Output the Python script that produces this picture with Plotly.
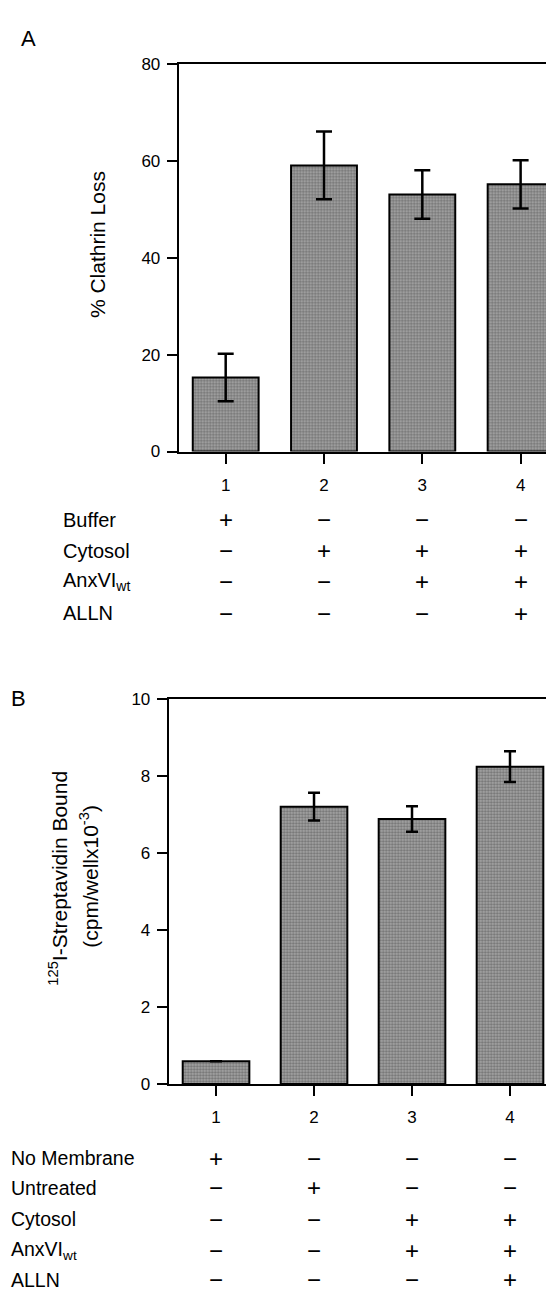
import plotly.graph_objects as go

# ---------------- data ----------------
categories = [1, 2, 3, 4]
cat_labels = ["1", "2", "3", "4"]

clathrin_loss = [15.3, 59.1, 53.1, 55.2]
clathrin_err = [4.9, 7.0, 5.0, 5.0]

strep_bound = [0.59, 7.2, 6.88, 8.24]
strep_err = [None, 0.36, 0.33, 0.40]

yticks_A = [0, 20, 40, 60, 80]
yticks_B = [0, 2, 4, 6, 8, 10]

rows_A = ["Buffer", "Cytosol", "AnxVI<sub>wt</sub>", "ALLN"]
signs_A = [["+", "−", "−", "−"],
           ["−", "+", "+", "+"],
           ["−", "−", "+", "+"],
           ["−", "−", "−", "+"]]

rows_B = ["No Membrane", "Untreated", "Cytosol", "AnxVI<sub>wt</sub>", "ALLN"]
signs_B = [["+", "−", "−", "−"],
           ["−", "+", "−", "−"],
           ["−", "−", "+", "+"],
           ["−", "−", "+", "+"],
           ["−", "−", "−", "+"]]

# ---------------- layout helpers ----------------
W, H = 554, 1294
FONT = "Liberation Sans, Arial, Helvetica, sans-serif"


def px(x):
    return x / W


def py(y):
    return 1 - y / H


bar_pattern = dict(shape=".", size=3, solidity=0.5,
                   fgcolor="#383838", bgcolor="#ababab")

fig = go.Figure()

fig.add_trace(go.Bar(
    x=categories, y=clathrin_loss, width=0.67,
    marker=dict(color="#8e8e8e", pattern=bar_pattern,
                line=dict(color="black", width=2)),
    error_y=dict(type="data", array=clathrin_err, visible=True,
                 color="black", thickness=2.5, width=8),
    xaxis="x", yaxis="y", showlegend=False,
))

fig.add_trace(go.Bar(
    x=categories, y=strep_bound, width=0.68,
    marker=dict(color="#8e8e8e", pattern=bar_pattern,
                line=dict(color="black", width=2)),
    error_y=dict(type="data", array=strep_err, visible=True,
                 color="black", thickness=2.5, width=6),
    xaxis="x2", yaxis="y2", showlegend=False,
))

tickfont = dict(family=FONT, size=17, color="black")
common_x = dict(tickmode="array", tickvals=categories, ticktext=cat_labels,
                ticks="outside", ticklen=10, tickwidth=2, tickcolor="black",
                showline=True, linecolor="black", linewidth=2, mirror=True,
                showgrid=False, zeroline=False, tickfont=tickfont,
                ticklabelstandoff=7)
common_y = dict(ticks="outside", ticklen=10, tickwidth=2, tickcolor="black",
                showline=True, linecolor="black", linewidth=2,
                showgrid=False, zeroline=False, tickfont=tickfont,
                ticklabelstandoff=3)

fig.update_layout(
    width=W, height=H,
    margin=dict(l=0, r=0, t=0, b=0),
    paper_bgcolor="white", plot_bgcolor="white",
    font=dict(family=FONT, color="black"),
    xaxis=dict(domain=[px(170.7), 1.0], range=[0.522, 4.421], anchor="y",
               **common_x),
    yaxis=dict(domain=[py(441), py(48)], range=[0, 80], tickvals=yticks_A,
               anchor="x", mirror=False, **common_y),
    xaxis2=dict(domain=[px(160.7), px(550.7)], range=[0.517, 4.497],
                anchor="y2", **common_x),
    yaxis2=dict(domain=[py(1083), py(692)], range=[0, 10], tickvals=yticks_B,
                anchor="x2", mirror=True, **common_y),
)


def note(text, x, y, size, angle=0, xanchor="center"):
    return dict(text=text, x=px(x), y=py(y), xref="paper", yref="paper",
                xanchor=xanchor, yanchor="middle", showarrow=False,
                textangle=angle, font=dict(family=FONT, size=size, color="black"))


ann = []
# panel letters
ann.append(note("A", 20, 22, 22))
ann.append(note("B", 10, 692, 22))

# axis titles
ann.append(note("% Clathrin Loss", 89.5, 231, 21, angle=-90))
ann.append(note("<sup>125</sup>I-Streptavidin Bound", 50.5, 874, 21, angle=-90))
ann.append(note("(cpm/wellx10<sup>-3</sup>)", 81.5, 872, 21, angle=-90))

signfont = dict(family=FONT, size=24, color="black")

rowsA_y = [510, 541.7, 573.3, 605]
for label, yy, signs in zip(rows_A, rowsA_y, signs_A):
    ann.append(note(label, 52.5, yy, 20, xanchor="left"))
    for c, s in zip(categories, signs):
        ann.append(dict(text=s, x=c, y=py(yy), xref="x", yref="paper",
                        xanchor="center", yanchor="middle", showarrow=False,
                        font=signfont))

rowsB_y = [1158.3, 1188.3, 1220, 1251.7, 1281.7]
for label, yy, signs in zip(rows_B, rowsB_y, signs_B):
    ann.append(note(label, 1, yy, 19.5, xanchor="left"))
    for c, s in zip(categories, signs):
        ann.append(dict(text=s, x=c, y=py(yy), xref="x2", yref="paper",
                        xanchor="center", yanchor="middle", showarrow=False,
                        font=signfont))

fig.update_layout(annotations=ann)

fig.write_html("out.html")
